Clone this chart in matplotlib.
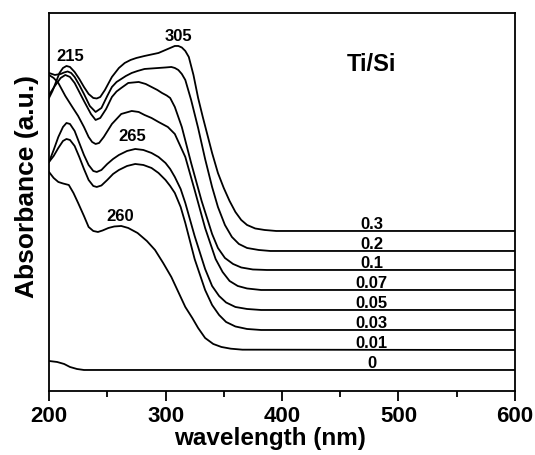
import matplotlib
matplotlib.use("Agg")
import matplotlib.pyplot as plt
from matplotlib.ticker import MultipleLocator

plt.rcParams['font.family'] = ['Liberation Sans', 'DejaVu Sans']
plt.rcParams['font.weight'] = 'bold'

# stacked UV-vis spectra, offset absorbance (a.u.)
wl_03 = [200, 203, 206, 209, 212, 215, 218, 222, 226, 230, 234, 238, 241, 244, 248, 254, 260, 265, 270, 275, 282, 288,
         294, 300, 305, 308, 311, 314, 317, 320, 324, 328, 332, 336, 340, 345, 350, 355, 360, 365, 370, 377, 385, 395, 600]
ab_03 = [293, 300, 309, 318, 323, 325, 324, 319, 312, 304, 297, 293, 292.5, 294, 301, 314, 323, 328, 331, 333, 335, 336.5,
         338, 341, 343.5, 345, 345, 343.5, 340, 334, 316, 293, 274, 256, 238, 218, 203, 190, 179, 171, 166, 162.5, 161, 160, 160]

wl_02 = [200, 205, 210, 213, 216, 219, 222, 226, 230, 235, 240, 245, 250, 254, 258, 262, 266, 271, 276, 282, 288, 294,
         300, 305, 308, 311, 314, 317, 322, 328, 334, 340, 345, 351, 357, 363, 370, 380, 390, 600]
ab_02 = [318, 316, 317, 318.5, 319.5, 318, 314, 306, 297, 285, 279, 283, 295, 304, 309, 312, 315, 318, 320, 322, 322.5, 323,
         323.5, 324, 323, 321, 317, 311, 291, 263, 232, 204, 184, 166, 154, 147, 143, 141, 140, 140]

wl_01 = [200, 205, 210, 214, 218, 222, 226, 230, 236, 240, 244, 249, 254, 258, 262, 268, 277, 283, 288, 293, 297, 301,
         304, 308, 314, 322, 331, 340, 345, 351, 358, 365, 375, 387, 600]
ab_01 = [296, 305, 313, 316, 314, 308, 299, 290, 277, 271, 273, 282, 294, 299.5, 303, 308, 309, 307, 304, 301, 298, 295.5,
         293, 284, 264, 228, 190, 157, 143, 133, 127, 123.5, 121.5, 121, 121]

wl_007 = [200, 204, 208, 214, 220, 225, 230, 234, 237, 240, 243, 247, 254, 262, 271, 277, 282, 288, 294, 302, 308, 317,
          325, 334, 343, 349, 355, 362, 370, 382, 600]
ab_007 = [316, 313, 308, 295, 284, 275, 264, 254, 249, 247, 248, 254, 267, 277, 280, 279, 276, 273, 269, 264, 257, 234,
          201, 163, 132, 119, 110, 105, 102.5, 101, 101]

wl_005 = [200, 204, 208, 212, 215, 218, 222, 226, 230, 234, 238, 241, 245, 250, 255, 260, 267, 274, 281, 288, 294, 300,
          304, 308, 313, 317, 325, 334, 340, 346, 352, 360, 370, 382, 600]
ab_005 = [229, 241, 254, 264, 268, 267, 260, 248, 236, 226, 220, 219, 221, 227, 232, 236, 240, 242, 241, 238, 234, 228,
          222, 214, 202, 188, 155, 122, 105, 95, 88.5, 84, 82, 81, 81]

wl_003 = wl_005
ab_003 = [229, 235, 243, 250, 252, 251, 245, 234, 222, 211, 205, 204, 205.5, 211, 217, 221, 225, 227, 226, 223, 218, 211,
          205, 198, 184, 168, 132, 101, 86, 76, 69, 64.5, 62, 61, 61]

wl_001 = [200, 204, 208, 212, 217, 221, 225, 230, 234, 238, 242, 246, 251, 256, 262, 268, 276, 284, 291, 298, 305, 311,
          317, 323, 328, 334, 341, 348, 356, 366, 600]
ab_001 = [219, 213, 209, 207.5, 206, 198, 188, 175, 164, 160, 159, 160.5, 163, 164.5, 165, 163, 158, 150, 141, 128, 114, 99,
          84, 73, 63, 53, 47, 44, 42.3, 41.3, 41]

wl_0 = [200, 207, 213, 218, 224, 230, 240, 600]
ab_0 = [30, 29, 27, 24, 22, 21, 21, 21]

ratios = ['0.3', '0.2', '0.1', '0.07', '0.05', '0.03', '0.01', '0']
spectra = [(wl_03, ab_03), (wl_02, ab_02), (wl_01, ab_01), (wl_007, ab_007),
           (wl_005, ab_005), (wl_003, ab_003), (wl_001, ab_001), (wl_0, ab_0)]

# band maxima marked on the plot
peak_text = ['215', '305', '265', '260']
peak_x = [218, 311.5, 271.5, 261.5]
peak_y = [334, 354, 254, 174]

fig = plt.figure(figsize=(5.35, 4.55), dpi=100)
ax = fig.add_axes([0.0916, 0.1407, 0.871, 0.8308])

for (wl, ab), r in zip(spectra, ratios):
    ax.plot(wl, ab, color='black', lw=1.3, solid_joinstyle='round')
    ax.text(477, ab[-1] + 1.5, r, ha='center', va='baseline', fontsize=12, fontweight='bold')

for t, x, y in zip(peak_text, peak_x, peak_y):
    ax.text(x, y, t, ha='center', va='center', fontsize=12, fontweight='bold')

ax.text(477, 326, 'Ti/Si', ha='center', va='center', fontsize=17, fontweight='bold')

ax.set_xlim(200, 600)
ax.set_ylim(0, 378)
ax.xaxis.set_major_locator(MultipleLocator(100))
ax.xaxis.set_minor_locator(MultipleLocator(50))
ax.tick_params(axis='x', which='major', direction='out', length=7, width=1.3, labelsize=16, pad=3.5)
ax.tick_params(axis='x', which='minor', direction='out', length=4, width=1.3)
ax.tick_params(axis='y', left=False, labelleft=False)
for s in ax.spines.values():
    s.set_linewidth(1.3)

ax.set_xlabel('wavelength (nm)', fontsize=17.5, fontweight='bold')
ax.set_ylabel('Absorbance (a.u.)', fontsize=19, fontweight='bold')
ax.xaxis.set_label_coords(0.475, -0.0966)
ax.yaxis.set_label_coords(-0.022, 0.54)

fig.savefig('out.png', dpi=100)
